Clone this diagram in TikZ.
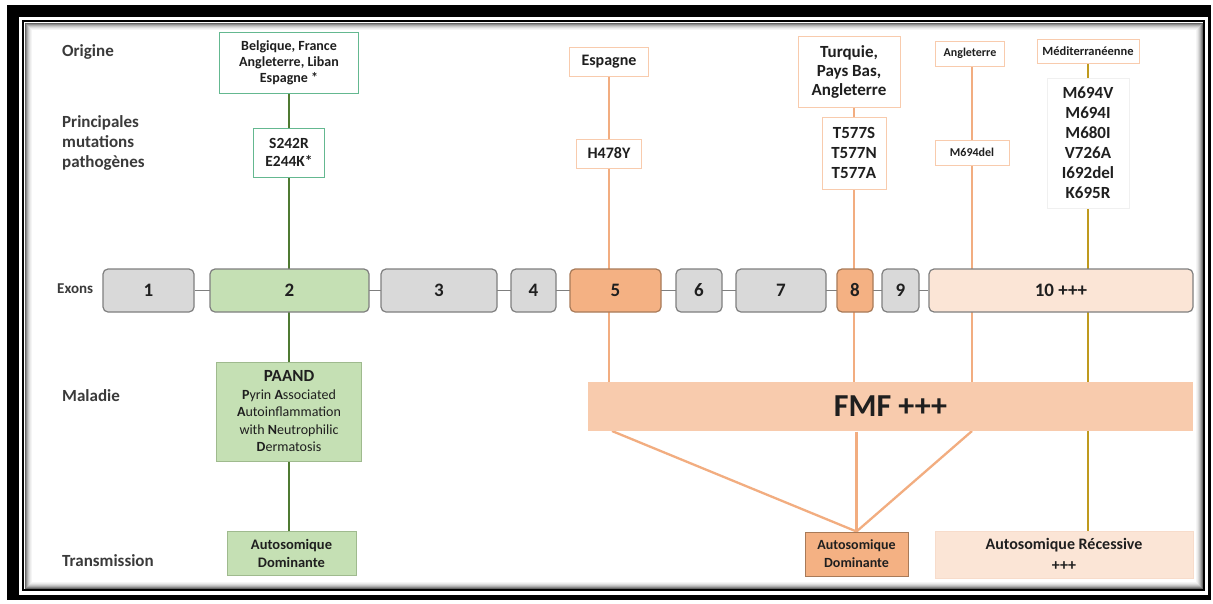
\documentclass[tikz,border=0pt]{standalone}
\usepackage{fontspec}
\setmainfont{Carlito}
\pgfdeclarelayer{frame}
\pgfdeclarelayer{bg}
\pgfsetlayers{frame,bg,main}
\definecolor{exgray}{HTML}{D9D9D9}
\definecolor{exborder}{HTML}{7F7F7F}
\definecolor{gfill}{HTML}{C5E0B4}
\definecolor{gborder}{HTML}{64B890}
\definecolor{gdborder}{HTML}{9FBA8E}
\definecolor{gline}{HTML}{4F7A32}
\definecolor{oline}{HTML}{F2AD80}
\definecolor{oborder}{HTML}{F8CBAD}
\definecolor{ofill}{HTML}{F4B183}
\definecolor{odborder}{HTML}{A87A58}
\definecolor{pfill}{HTML}{F8CBAD}
\definecolor{lfill}{HTML}{FBE5D6}
\definecolor{lborder}{HTML}{F7DCCB}
\definecolor{olive}{HTML}{BF9A1E}
\definecolor{txt}{HTML}{1F1F1F}
\definecolor{labc}{HTML}{3A3A3A}
\tikzset{
  lab/.style={anchor=west, inner sep=0pt, align=left, text=labc,
    font=\fontsize{17}{20}\selectfont\bfseries},
  box/.style={inner sep=0pt, align=center, text=txt, line width=1pt},
  gbox/.style={box, draw=gborder, fill=white},
  obox/.style={box, draw=oborder, fill=white},
  exon/.style={inner sep=0pt, rounded corners=5pt, line width=1.2pt, draw=exborder,
    fill=exgray, text=txt, minimum height=43pt, font=\fontsize{19}{22}\selectfont\bfseries},
  gconn/.style={draw=gline, line width=2.6pt},
  oconn/.style={draw=oline, line width=2.3pt},
  yconn/.style={draw=olive, line width=2.3pt},
  exconn/.style={draw=exborder, line width=1.3pt}
}
\begin{document}
\begin{tikzpicture}[x=1pt,y=-1pt]
\useasboundingbox (0,0) rectangle (1213,603);
\begin{pgfonlayer}{frame}
  \fill[black] (7,5) rectangle (1211,600);
  \fill[white] (19,17) rectangle (1208,595);
  \draw[black, line width=2pt] (23,21) rectangle (1204,590);
  \foreach \i/\c in {1/60,2/45,3/32,4/22,5/14,6/8,7/4} {
    \draw[black!\c, line width=1pt] (24+\i,22+\i) rectangle (1203-\i,589-\i);
  }
\end{pgfonlayer}

% row labels
\node[lab] (lorig) at (62,52) {Origine};
\node[lab] (lmut) at (62,143) {Principales\\mutations\\pathogènes};
\node[lab, font=\fontsize{15}{18}\selectfont\bfseries] (lexon) at (57,289) {Exons};
\node[lab] (lmal) at (62,396) {Maladie};
\node[lab] (ltr) at (62,561) {Transmission};

% exons
\node[exon, minimum width=91pt] (e1) at (148.5,290.5) {1};
\node[exon, minimum width=159pt, fill=gfill] (e2) at (289.5,290.5) {2};
\node[exon, minimum width=116pt] (e3) at (439,290.5) {3};
\node[exon, minimum width=45pt] (e4) at (533.5,290.5) {4};
\node[exon, minimum width=91pt, fill=ofill, draw=odborder] (e5) at (615.5,290.5) {5};
\node[exon, minimum width=46pt] (e6) at (699,290.5) {6};
\node[exon, minimum width=90pt] (e7) at (781,290.5) {7};
\node[exon, minimum width=36pt, fill=ofill, draw=odborder] (e8) at (855,290.5) {8};
\node[exon, minimum width=37pt] (e9) at (900.5,290.5) {9};
\node[exon, minimum width=264pt, fill=lfill] (e10) at (1061,290.5) {10 +++};

% green column
\node[gbox, minimum width=139pt, minimum height=61pt,
  font=\fontsize{14}{16}\selectfont\bfseries] (orig) at (289,62.5)
  {Belgique, France\\Angleterre, Liban\\Espagne *};
\node[gbox, minimum width=71pt, minimum height=49pt,
  font=\fontsize{15.5}{17.5}\selectfont\bfseries] (mut) at (289,152.5)
  {S242R\\E244K*};
\node[box, draw=gdborder, fill=gfill, minimum width=145pt, minimum height=99pt,
  font=\fontsize{14}{17.5}\selectfont] (paand) at (289,411.5)
  {{\fontsize{17}{17.5}\selectfont\bfseries PAAND}\\
   \textbf{P}yrin \textbf{A}ssociated\\
   \textbf{A}utoinflammation\\
   with \textbf{N}eutrophilic\\
   \textbf{D}ermatosis};
\node[box, draw=gdborder, fill=gfill, minimum width=129pt, minimum height=44pt,
  font=\fontsize{14.5}{18}\selectfont\bfseries] (gtr) at (291.5,553)
  {Autosomique\\Dominante};

% orange column (exon 5)
\node[obox, minimum width=79pt, minimum height=29pt,
  font=\fontsize{16}{18}\selectfont\bfseries] (esp) at (609,61.5) {Espagne};
\node[obox, minimum width=65pt, minimum height=29pt,
  font=\fontsize{16}{18}\selectfont\bfseries] (h478) at (609,153.5) {H478Y};

% exon 8 column
\node[obox, minimum width=102pt, minimum height=71pt,
  font=\fontsize{17}{19}\selectfont\bfseries] (tur) at (849,71.5)
  {Turquie,\\Pays Bas,\\Angleterre};
\node[obox, minimum width=64pt, minimum height=72pt,
  font=\fontsize{17}{20}\selectfont\bfseries] (t577) at (854,153)
  {T577S\\T577N\\T577A};

% exon 10 columns
\node[obox, minimum width=69pt, minimum height=25pt,
  font=\fontsize{12}{14}\selectfont\bfseries] (angl) at (970,53.5) {Angleterre};
\node[obox, minimum width=74pt, minimum height=25pt,
  font=\fontsize{12}{14}\selectfont\bfseries] (m694del) at (972,152.5) {M694del};
\node[obox, minimum width=102pt, minimum height=24pt,
  font=\fontsize{12.5}{14}\selectfont\bfseries] (medit) at (1088,51) {Méditerranéenne};
\node[box, draw=black!6, fill=white, minimum width=82pt, minimum height=130pt,
  font=\fontsize{17}{20}\selectfont\bfseries] (m694v) at (1088,143)
  {M694V\\M694I\\M680I\\V726A\\I692del\\K695R};

% disease and transmission
\node[box, draw=none, fill=pfill, minimum width=605pt, minimum height=49pt,
  font=\fontsize{32}{34}\selectfont\bfseries] (fmf) at (890.5,406.5) {FMF +++};
\node[box, draw=odborder, fill=ofill, minimum width=103pt, minimum height=44pt,
  font=\fontsize{14}{18}\selectfont\bfseries] (ad) at (856.5,554) {Autosomique\\Dominante};
\node[box, draw=lborder, fill=lfill, minimum width=258pt, minimum height=47pt,
  font=\fontsize{16}{21}\selectfont\bfseries] (ar) at (1064,554.5)
  {Autosomique Récessive\\+++};

\coordinate (f1) at (612,431);
\coordinate (f3) at (972,431);

\begin{pgfonlayer}{bg}
  \draw[exconn] (e1) -- (e10);
  \draw[gconn] (orig) -- (mut);
  \draw[gconn] (mut) -- (mut |- paand.north);
  \draw[gconn] (paand.south) -- (paand.south |- gtr.north);
  \draw[oconn] (esp) -- (esp |- fmf.north);
  \draw[oconn] (t577 |- tur.south) -- (t577 |- fmf.north);
  \draw[oconn] (m694del |- angl.south) -- (m694del |- fmf.north);
  \draw[yconn] (medit) -- (medit |- ar.north);
  \draw[oconn] (f1) -- (ad.north);
  \draw[oconn] (ad.north |- fmf.south) -- (ad.north);
  \draw[oconn] (f3) -- (ad.north);
\end{pgfonlayer}
\end{tikzpicture}
\end{document}
